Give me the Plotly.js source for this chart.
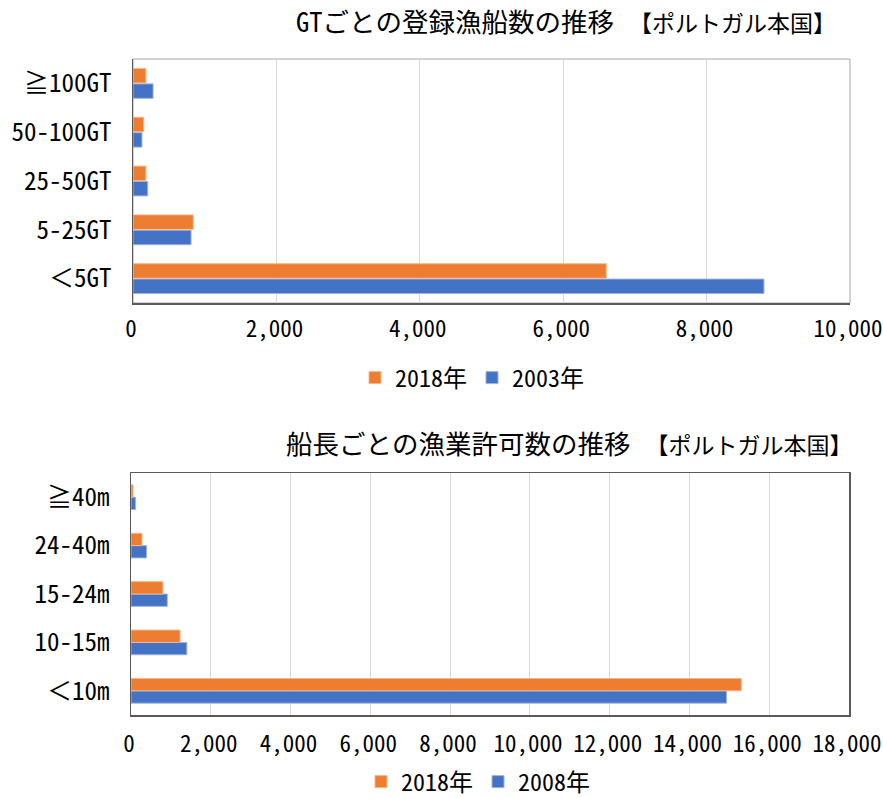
<!DOCTYPE html>
<html><head><meta charset="utf-8">
<script src="https://cdn.plot.ly/plotly-3.0.1.min.js"></script>
<style>
body{margin:0;background:#fff}
#top,#bot{position:absolute;left:0;width:883px}
#top{top:0;height:400px}
#bot{top:400px;height:398px}
</style>
</head><body>
<div id="top"></div><div id="bot"></div>
<script>
// ---- data ----
const gtCategories = ["＜5GT", "5-25GT", "25-50GT", "50-100GT", "≧100GT"];
const gt2018 = [6600, 840, 180, 150, 180];
const gt2003 = [8800, 810, 205, 125, 280];
const gtTicks = [0, 2000, 4000, 6000, 8000, 10000];

const lenCategories = ["＜10m", "10-15m", "15-24m", "24-40m", "≧40m"];
const len2018 = [15300, 1230, 800, 275, 50];
const len2008 = [14930, 1400, 910, 390, 115];
const lenTicks = [0, 2000, 4000, 6000, 8000, 10000, 12000, 14000, 16000, 18000];

const topTitle = "GTごとの登録漁船数の推移";
const botTitle = "船長ごとの漁業許可数の推移";
const subTitle = "【ポルトガル本国】";

// ---- styles ----
const FONT = '"Noto Sans Mono CJK JP", "Noto Sans CJK JP", monospace';
const ORANGE = "#ED7D31", BLUE = "#4472C4";
const ORANGE_EDGE = "#F6B68A", BLUE_EDGE = "#9DB4E0";

function bars(cats, vals, name, color, edge) {
  return {type: "bar", orientation: "h", y: cats, x: vals, name: name,
    marker: {color: color, line: {color: edge, width: 1}}, hoverinfo: "x+y"};
}

function layoutFor(o) {
  return {
    width: 883, height: o.height,
    margin: {l: o.l, r: o.r, t: o.t, b: o.b},
    paper_bgcolor: "#fff", plot_bgcolor: "#fff",
    font: {family: FONT, size: 25, color: "#000"},
    barmode: "group", bargap: o.bargap, bargroupgap: o.bargroupgap,
    title: {text: o.title + '　<span style="font-size:23px">' + subTitle + '</span>',
      font: {family: FONT, size: 26.5, color: "#000"},
      xref: "container", x: o.titleX, xanchor: "left",
      yref: "container", y: o.titleY, yanchor: "middle"},
    xaxis: {range: [0, o.max], tickvals: o.ticks, tickformat: ",", tickangle: 0,
      ticklabeloverflow: "allow", ticklabelshift: -2,
      showgrid: true, gridcolor: "#d9d9d9", gridwidth: 1, zeroline: false,
      showline: true, linecolor: "#595959", linewidth: 1.5, mirror: o.mirror,
      ticks: "", ticklabelstandoff: o.xstand, tickfont: {size: o.xfont}, fixedrange: true},
    yaxis: {type: "category", showgrid: false, zeroline: false,
      showline: true, linecolor: "#595959", linewidth: 1.5, mirror: o.mirror,
      ticklabeloverflow: "allow",
      ticks: "", ticklabelstandoff: 15, tickfont: {size: 25}, fixedrange: true},
    showlegend: true,
    legend: {orientation: "h", traceorder: "reversed", xref: "container", x: o.legX, xanchor: "center",
      yref: "container", y: o.legY, yanchor: "middle", font: {size: 24}, itemwidth: 30},
    shapes: o.frame ? [{type: "rect", xref: "paper", yref: "paper", x0: 0, x1: 1, y0: 0, y1: 1,
      line: {color: o.frame, width: 1}, layer: "below"}] : []
  };
}

Plotly.newPlot("top", [
  bars(gtCategories, gt2003, "2003年", BLUE, BLUE_EDGE),
  bars(gtCategories, gt2018, "2018年", ORANGE, ORANGE_EDGE)
], layoutFor({height: 400, l: 133, r: 33, t: 59, b: 97, bargap: 0.37, bargroupgap: 0.06,
  title: topTitle, titleX: 296 / 883, titleY: 1 - 23 / 400,
  max: 10000, ticks: gtTicks, mirror: false, frame: "#a6a6a6", xstand: 5, xfont: 23,
  legX: 472 / 883, legY: 1 - 378 / 400}), {displayModeBar: false, staticPlot: true});

Plotly.newPlot("bot", [
  bars(lenCategories, len2008, "2008年", BLUE, BLUE_EDGE),
  bars(lenCategories, len2018, "2018年", ORANGE, ORANGE_EDGE)
], layoutFor({height: 398, l: 131, r: 34, t: 73, b: 83, bargap: 0.49, bargroupgap: 0,
  title: botTitle, titleX: 286 / 883, titleY: 1 - 45 / 398,
  max: 18000, ticks: lenTicks, mirror: true, frame: null, xstand: 8, xfont: 23,
  legX: 478 / 883, legY: 1 - 382 / 398}), {displayModeBar: false, staticPlot: true});
</script>
</body></html>
